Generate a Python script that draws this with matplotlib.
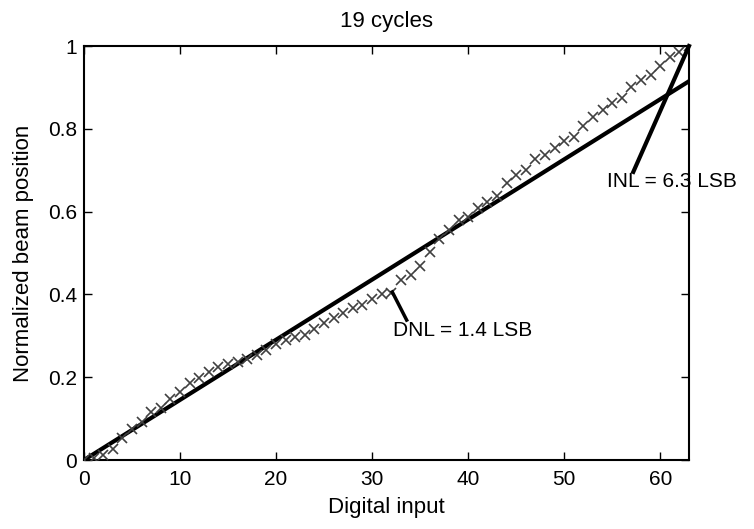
import matplotlib
matplotlib.use("Agg")
import matplotlib.pyplot as plt
import numpy as np

plt.rcParams['font.family'] = ['Liberation Sans', 'DejaVu Sans']

codes = list(range(64))
positions = [0.0, 0.005, 0.012, 0.027, 0.052, 0.074, 0.093, 0.117, 0.125, 0.147,
             0.165, 0.185, 0.199, 0.212, 0.225, 0.231, 0.236, 0.245, 0.254, 0.266,
             0.280, 0.290, 0.298, 0.302, 0.316, 0.330, 0.342, 0.355, 0.366, 0.374,
             0.388, 0.400, 0.404, 0.435, 0.447, 0.469, 0.503, 0.533, 0.556, 0.580,
             0.586, 0.608, 0.624, 0.638, 0.668, 0.688, 0.700, 0.726, 0.737, 0.753,
             0.771, 0.781, 0.807, 0.829, 0.845, 0.862, 0.874, 0.902, 0.918, 0.930,
             0.952, 0.974, 0.986, 1.000]
fit_x = [0, 63]
fit_y = [0.0, 0.915]
xticks = [0, 10, 20, 30, 40, 50, 60]
yticks = [0, 0.2, 0.4, 0.6, 0.8, 1]
ytick_labels = ['0', '0.2', '0.4', '0.6', '0.8', '1']

fig = plt.figure(figsize=(7.54, 5.29), dpi=100)
ax = fig.add_axes([0.1114, 0.1304, 0.8024, 0.7826])

ax.plot(codes, positions, linestyle='none', marker='x', color='#404040',
        markersize=7, markeredgewidth=1.2, zorder=3)
ax.plot(fit_x, fit_y, color='black', linewidth=3, zorder=2)

# annotations
ax.plot([63, 57.2], [1.0, 0.696], color='black', linewidth=3, clip_on=False, zorder=4)
ax.text(54.5, 0.672, 'INL = 6.3 LSB', fontsize=15, va='center', ha='left', clip_on=False)
ax.plot([32.1, 33.6], [0.406, 0.338], color='black', linewidth=2.5, zorder=4)
ax.text(32.2, 0.312, 'DNL = 1.4 LSB', fontsize=15, va='center', ha='left')

ax.set_xlim(0, 63)
ax.set_ylim(0, 1)
ax.set_xticks(xticks)
ax.set_yticks(yticks)
ax.set_yticklabels(ytick_labels)
ax.tick_params(direction='in', top=True, right=True, labelsize=15, length=6, width=1)
ax.tick_params(axis='x', pad=7)
ax.tick_params(axis='y', pad=5)
for s in ax.spines.values():
    s.set_linewidth(1.5)
ax.set_xlabel('Digital input', fontsize=16, labelpad=6)
ax.set_ylabel('Normalized beam position', fontsize=16, labelpad=10)
ax.set_title('19 cycles', fontsize=16, pad=14)

fig.savefig('out.png', dpi=100)
